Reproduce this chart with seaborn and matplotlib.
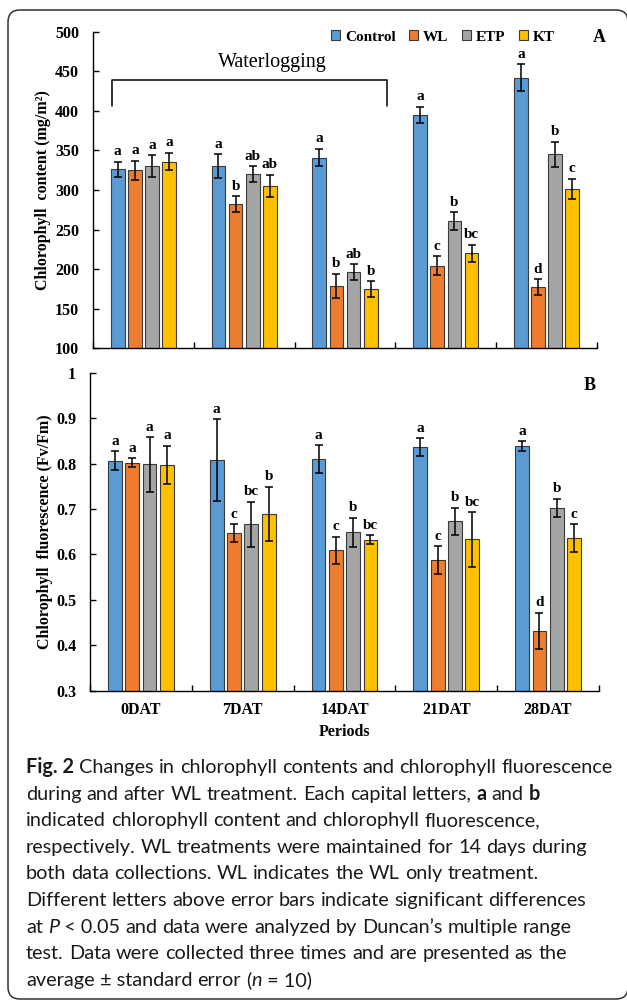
import matplotlib
matplotlib.use("Agg")
import numpy as np
import pandas as pd
import seaborn as sns
import matplotlib.pyplot as plt
from matplotlib.patches import Patch, FancyBboxPatch
from matplotlib.transforms import IdentityTransform

# ---------------- data ----------------
periods = ["0DAT", "7DAT", "14DAT", "21DAT", "28DAT"]
treatments = ["Control", "WL", "ETP", "KT"]
colors = ["#5B9BD5", "#ED7D31", "#A5A5A5", "#FFC000"]

# Panel A: chlorophyll content (mg/m2)
chl_control = [326, 330, 341, 395, 442]
chl_wl = [325, 282, 179, 204, 177]
chl_etp = [330, 320, 196, 261, 345]
chl_kt = [336, 305, 175, 220, 301]
chl_se_control = [10, 15, 11, 10, 17]
chl_se_wl = [12, 10, 15, 12, 10]
chl_se_etp = [14, 10, 10, 11, 16]
chl_se_kt = [11, 14, 10, 11, 13]
chl_let_control = ["a", "a", "a", "a", "a"]
chl_let_wl = ["a", "b", "b", "c", "d"]
chl_let_etp = ["a", "ab", "ab", "b", "b"]
chl_let_kt = ["a", "ab", "b", "bc", "c"]
chl_yticks = [100, 150, 200, 250, 300, 350, 400, 450, 500]
chl_yticklabels = ["100", "150", "200", "250", "300", "350", "400", "450", "500"]

# Panel B: chlorophyll fluorescence (Fv/Fm)
fv_control = [0.806, 0.808, 0.810, 0.836, 0.838]
fv_wl = [0.802, 0.647, 0.609, 0.587, 0.432]
fv_etp = [0.798, 0.666, 0.649, 0.673, 0.703]
fv_kt = [0.797, 0.689, 0.632, 0.633, 0.636]
fv_se_control = [0.021, 0.090, 0.030, 0.020, 0.011]
fv_se_wl = [0.010, 0.020, 0.030, 0.031, 0.040]
fv_se_etp = [0.060, 0.050, 0.032, 0.030, 0.020]
fv_se_kt = [0.042, 0.060, 0.010, 0.060, 0.031]
fv_let_control = ["a", "a", "a", "a", "a"]
fv_let_wl = ["a", "c", "c", "c", "d"]
fv_let_etp = ["a", "bc", "b", "b", "b"]
fv_let_kt = ["a", "b", "bc", "bc", "c"]
fv_yticks = [0.3, 0.4, 0.5, 0.6, 0.7, 0.8, 0.9, 1.0]
fv_yticklabels = ["0.3", "0.4", "0.5", "0.6", "0.7", "0.8", "0.9", "1"]

# Waterlogging bracket (annotation, in panel-A data units)
wl_bracket_x = (-0.31, 2.42)
wl_bracket_y = (406, 439)
wl_text_pos = (1.28, 461)

caption_lines = [
    "§Fig.~2 Changes in chlorophyll contents and chlorophyll fluorescence",
    "during and after WL treatment. Each capital letters, §a and §b",
    "indicated chlorophyll content and chlorophyll fluorescence,",
    "respectively. WL treatments were maintained for 14 days during",
    "both data collections. WL indicates the WL only treatment.",
    "Different letters above error bars indicate significant differences",
    "at ¶P|~<~0.05 and data were analyzed by Duncan’s multiple range",
    "test. Data were collected three times and are presented as the",
    "average|~±~standard error (|¶n|~=~10)",
]

# ---------------- style ----------------
sns.set_theme(style="ticks")
plt.rcParams["font.family"] = ["Liberation Serif", "DejaVu Serif"]
plt.rcParams["text.color"] = "black"
plt.rcParams["axes.labelcolor"] = "black"
plt.rcParams["xtick.color"] = "black"
plt.rcParams["ytick.color"] = "black"
plt.rcParams["axes.edgecolor"] = "black"

W, H = 627, 1000
fig = plt.figure(figsize=(W / 100, H / 100), dpi=100)
fig.patch.set_facecolor("white")

axA = fig.add_axes([93 / W, 1 - 348.3 / H, (597 - 93) / W, (348.3 - 31.7) / H])
axB = fig.add_axes([90 / W, 1 - 690.7 / H, (599 - 90) / W, (690.7 - 372.7) / H])


def draw_panel(ax, means, ses, letters, ylim, yticks, yticklabels, ylabel, xlabels):
    rows = []
    for t, m in zip(treatments, means):
        for p, v in zip(periods, m):
            rows.append({"Period": p, "Treatment": t, "Value": v})
    df = pd.DataFrame(rows)
    sns.barplot(data=df, x="Period", y="Value", hue="Treatment", order=periods,
                hue_order=treatments, palette=colors, saturation=1, width=0.68,
                gap=0.2, edgecolor="#3a3a3a", linewidth=0.8, errorbar=None,
                legend=False, ax=ax)
    for cont, m, s, l in zip(ax.containers, means, ses, letters):
        for bar in cont:
            x = bar.get_x() + bar.get_width() / 2
            i = int(round(x))
            ax.errorbar(x, m[i], yerr=s[i], fmt="none", ecolor="black",
                        elinewidth=1.1, capsize=2.6, capthick=1.1, zorder=5)
            ax.annotate(l[i], (x, m[i] + s[i]), xytext=(0, 2.5),
                        textcoords="offset points", ha="center", va="bottom",
                        fontsize=11, fontweight="bold")
    ax.set_xlim(-0.5, 4.5)
    ax.set_ylim(*ylim)
    ax.set_yticks(yticks)
    ax.set_yticklabels(yticklabels)
    ax.set_xticks(range(len(periods)))
    ax.set_xticklabels(xlabels)
    ax.set_xticks(np.arange(-0.5, len(periods), 1), minor=True)
    for sp in ["top", "right"]:
        ax.spines[sp].set_visible(False)
    for sp in ["left", "bottom"]:
        ax.spines[sp].set_linewidth(1.0)
        ax.spines[sp].set_color("black")
    ax.tick_params(axis="y", direction="in", length=4, width=1, pad=10,
                   labelsize=11.5, left=True)
    ax.tick_params(axis="x", which="major", length=0, pad=8, labelsize=11.5)
    ax.tick_params(axis="x", which="minor", direction="in", length=4, width=1,
                   bottom=True)
    for t in ax.get_yticklabels() + ax.get_xticklabels():
        t.set_fontweight("bold")
    ax.set_xlabel("")
    ax.set_ylabel(ylabel, fontsize=11.5, fontweight="bold")


draw_panel(axA, [chl_control, chl_wl, chl_etp, chl_kt],
           [chl_se_control, chl_se_wl, chl_se_etp, chl_se_kt],
           [chl_let_control, chl_let_wl, chl_let_etp, chl_let_kt],
           (100, 500), chl_yticks, chl_yticklabels,
           "Chlorophyll  content (mg/m²)", [""] * len(periods))
draw_panel(axB, [fv_control, fv_wl, fv_etp, fv_kt],
           [fv_se_control, fv_se_wl, fv_se_etp, fv_se_kt],
           [fv_let_control, fv_let_wl, fv_let_etp, fv_let_kt],
           (0.3, 1.0), fv_yticks, fv_yticklabels,
           "Chlorophyll  fluorescence (Fv/Fm)", periods)

axA.yaxis.set_label_coords((43 - 93) / (597 - 93), 0.5)
axA.yaxis.label.set_verticalalignment("center")
axB.yaxis.set_label_coords((45 - 90) / (599 - 90), 0.5)
axB.yaxis.label.set_verticalalignment("center")
axB.set_xlabel("Periods", fontsize=11.5, fontweight="bold")
axB.xaxis.set_label_coords(0.5, (690.7 - 731.7) / (690.7 - 372.7))
axB.xaxis.label.set_verticalalignment("center")

# Waterlogging bracket
bx0, bx1 = wl_bracket_x
by0, by1 = wl_bracket_y
axA.plot([bx0, bx0, bx1, bx1], [by0, by1, by1, by0], color="black", lw=1.1,
         solid_joinstyle="round", clip_on=False)
axA.text(wl_text_pos[0], wl_text_pos[1], "Waterlogging", ha="center", va="center",
         fontsize=14.5)

# legend
handles = [Patch(facecolor=c, edgecolor="#3a3a3a", linewidth=0.8) for c in colors]
axA.legend(handles, treatments, ncol=4, loc="center left",
           bbox_to_anchor=(331 / W, 1 - 37 / H), bbox_transform=fig.transFigure,
           frameon=False, handlelength=0.6, handleheight=0.6, handletextpad=0.3,
           columnspacing=0.9, borderpad=0, borderaxespad=0,
           prop={"weight": "bold", "size": 11})

fig.text(599 / W, 1 - 38 / H, "A", ha="center", va="center", fontsize=13,
         fontweight="bold")
fig.text(590 / W, 1 - 385 / H, "B", ha="center", va="center", fontsize=13,
         fontweight="bold")

# outer rounded border
border = FancyBboxPatch((8, 1), 620, 989, boxstyle="round,pad=0,rounding_size=12",
                        transform=IdentityTransform(), facecolor="none",
                        edgecolor="#333333", linewidth=1.1)
fig.patches.append(border)

# caption (left aligned, mixed styles, word by word)
CAP_FONT = ["Lato", "DejaVu Sans"]
renderer = fig.canvas.get_renderer()


def parse_word(word):
    segs = []
    for s in word.split("|"):
        weight, style = "normal", "normal"
        if s.startswith("§"):
            weight, s = "bold", s[1:]
        elif s.startswith("¶"):
            style, s = "italic", s[1:]
        segs.append((s.replace("~", " "), weight, style))
    return segs


def measure(text, weight, style, size):
    t = fig.text(0, 0, text, fontsize=size, fontweight=weight, fontstyle=style,
                 family=CAP_FONT)
    w = t.get_window_extent(renderer).width
    t.remove()
    return w


def line_words(line, size):
    words = [parse_word(w) for w in line.split(" ")]
    widths = [sum(measure(s, wt, st, size) for s, wt, st in w) for w in words]
    return words, widths


base = 12
sp_base = measure("a a", "normal", "normal", base) - measure("aa", "normal", "normal", base)
w0, wd0 = line_words(caption_lines[0], base)
nat = sum(wd0) + sp_base * (len(wd0) - 1)
cap_x0, cap_x1 = 26, 613
cap_size = base * (cap_x1 - cap_x0) / nat
space = sp_base * cap_size / base

cap_base0 = 773
cap_step = 26.6
for k, line in enumerate(caption_lines):
    words, widths = line_words(line, cap_size)
    x = cap_x0
    yb = cap_base0 + k * cap_step
    for w, wd in zip(words, widths):
        xx = x
        for s, wt, st in w:
            fig.text(xx / W, 1 - yb / H, s, fontsize=cap_size, fontweight=wt,
                     fontstyle=st, family=CAP_FONT, ha="left", va="baseline",
                     color="#1a1a1a")
            xx += measure(s, wt, st, cap_size)
        x += wd + space

fig.savefig("out.png", dpi=100, facecolor="white")
